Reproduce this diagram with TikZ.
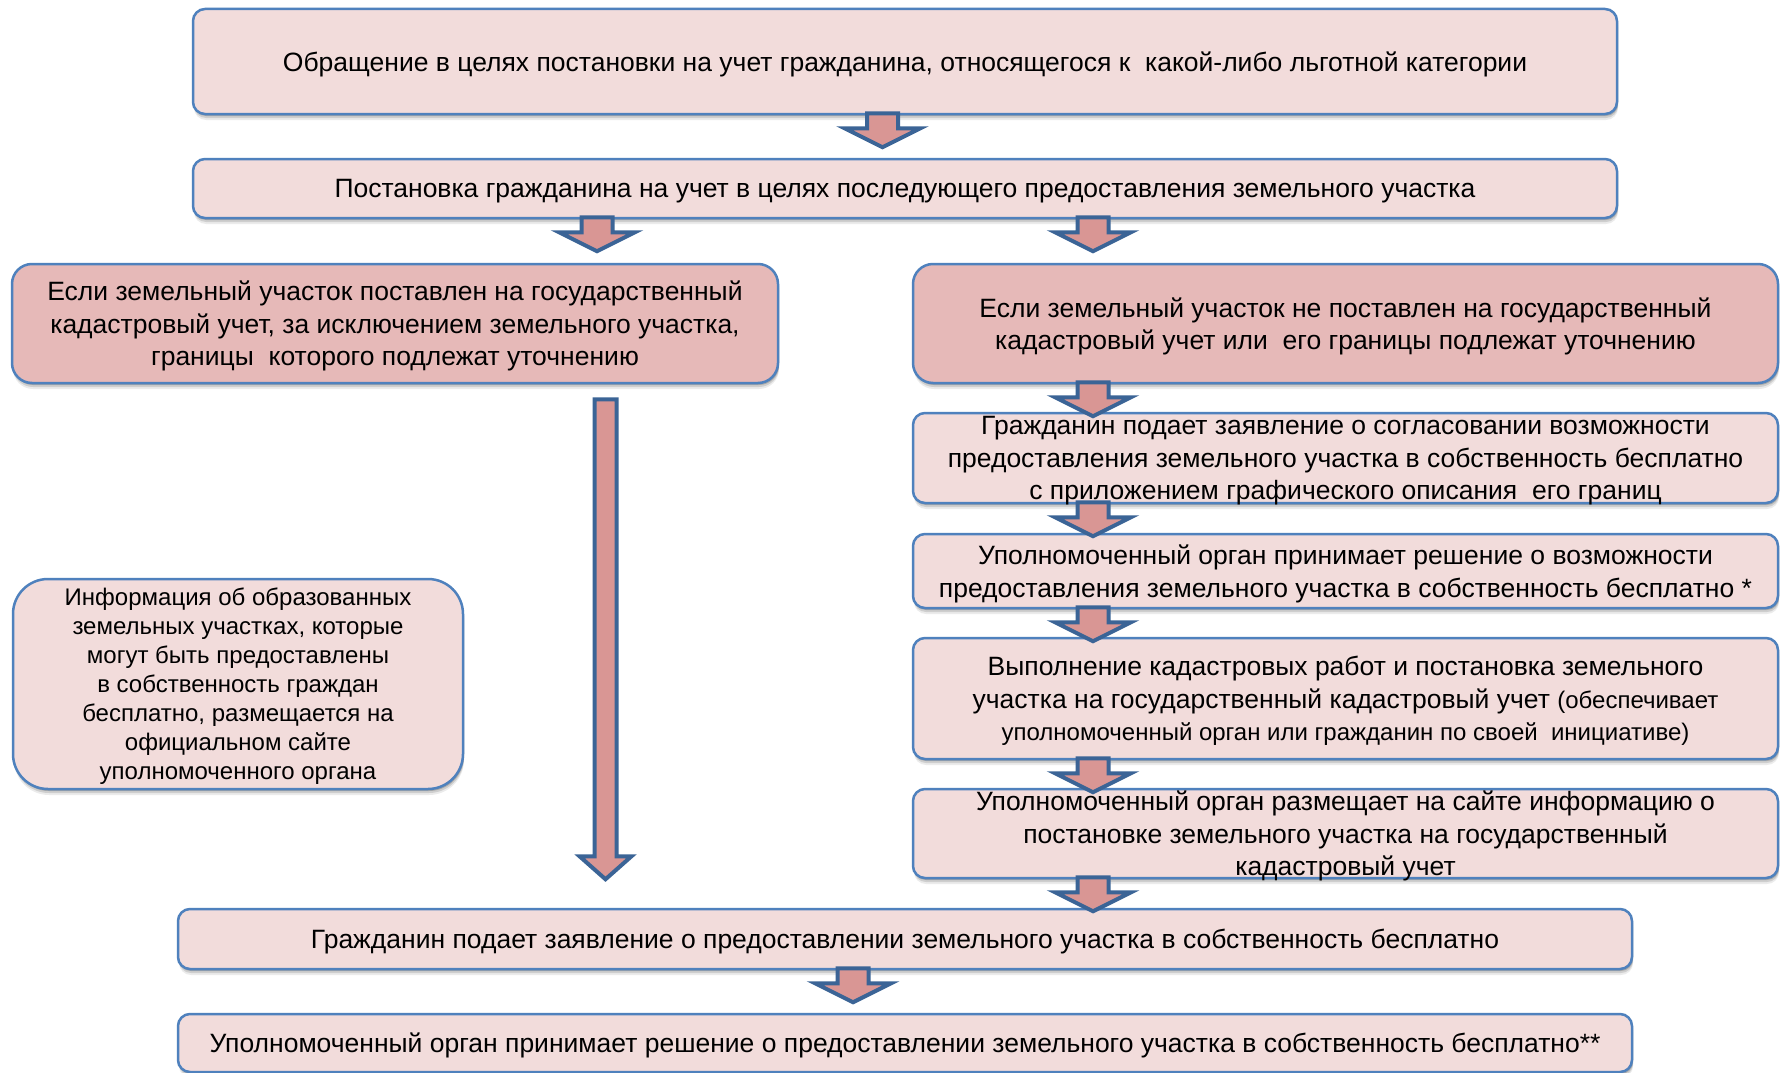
\documentclass[tikz,border=0pt]{standalone}
\usepackage{fontspec}
\setmainfont{Liberation Sans}
\usetikzlibrary{shadows}
\definecolor{boxline}{HTML}{4F81BD}
\definecolor{boxfill}{HTML}{F2DCDB}
\definecolor{boxdark}{HTML}{E6B9B8}
\definecolor{arrline}{HTML}{3B6496}
\definecolor{arrfill}{HTML}{D99694}
\tikzset{
  softshadow/.style={
    drop shadow={shadow xshift=1pt,shadow yshift=-6pt,opacity=0.08,fill=black},
    drop shadow={shadow xshift=1pt,shadow yshift=-4pt,opacity=0.12,fill=black},
    drop shadow={shadow xshift=1pt,shadow yshift=-2pt,opacity=0.18,fill=black}},
  box/.style={draw=boxline, line width=2.5pt, fill=boxfill, rounded corners=12pt,
    inner sep=0pt, align=center, font=\fontsize{26.5}{32.5}\selectfont, text depth=-5pt, softshadow},
  darkbox/.style={box, fill=boxdark, rounded corners=20pt},
  infobox/.style={box, rounded corners=35pt, font=\fontsize{24}{29}\selectfont},
  blkarrow/.style={draw=arrline, fill=arrfill, line width=4pt, line join=miter},
}
\newcommand\smalltxt{\fontsize{24}{32.5}\selectfont}
\newcommand\blkarr[2]{% #1 = x position, #2 = node the arrow leaves
  \draw[blkarrow] (perpendicular cs: horizontal line through={(#2.south)}, vertical line through={(#1,0)})
    +(-15.5,-2) -- +(-15.5,13) -- +(-38,13) -- +(0,32) -- +(38,13) -- +(15.5,13) -- +(15.5,-2) -- cycle;}
\begin{document}
\begin{tikzpicture}[x=1pt,y=-1pt]
\useasboundingbox[fill=white] (0,0) rectangle (1781,1073);

\node[box, minimum width=1424pt, minimum height=105pt] (n1) at (905,61.5)
  {Обращение в целях постановки на учет гражданина, относящегося к\ \ какой-либо льготной категории};
\node[box, minimum width=1424pt, minimum height=59pt] (n2) at (905,188.5)
  {Постановка гражданина на учет в целях последующего предоставления земельного участка};

\node[darkbox, minimum width=766pt, minimum height=119pt] (l1) at (395,323.5)
  {Если земельный участок поставлен на государственный\\кадастровый учет, за исключением земельного участка,\\границы\ \ которого подлежат уточнению};
\node[darkbox, minimum width=865pt, minimum height=119pt] (r1) at (1345.5,323.5)
  {Если земельный участок не поставлен на государственный\\кадастровый учет или\ \ его границы подлежат уточнению};

\node[box, minimum width=865pt, minimum height=90pt] (r2) at (1345.5,458)
  {Гражданин подает заявление о согласовании возможности\\предоставления земельного участка в собственность бесплатно\\с приложением графического описания\ \ его границ};
\node[box, minimum width=865pt, minimum height=74pt] (r3) at (1345.5,571)
  {Уполномоченный орган принимает решение о возможности\\предоставления земельного участка в собственность бесплатно *};
\node[box, minimum width=865pt, minimum height=121pt] (r4) at (1345.5,698.5)
  {Выполнение кадастровых работ и постановка земельного\\участка на государственный кадастровый учет {\smalltxt(обеспечивает}\\{\smalltxt уполномоченный орган или гражданин по своей\ \ инициативе)}};
\node[box, minimum width=865pt, minimum height=89pt] (r5) at (1345.5,833.5)
  {Уполномоченный орган размещает на сайте информацию о\\постановке земельного участка на государственный\\кадастровый учет};

\node[infobox, minimum width=450pt, minimum height=210pt] (info) at (238,684)
  {Информация об образованных\\земельных участках, которые\\могут быть предоставлены\\в собственность граждан\\бесплатно, размещается на\\официальном сайте\\уполномоченного органа};

\node[box, minimum width=1454pt, minimum height=60pt] (b1) at (905,939)
  {Гражданин подает заявление о предоставлении земельного участка в собственность бесплатно};
\node[box, minimum width=1454pt, minimum height=58pt] (b2) at (905,1043)
  {Уполномоченный орган принимает решение о предоставлении земельного участка в собственность бесплатно**};

\blkarr{882.5}{n1}
\blkarr{597}{n2}
\blkarr{1093}{n2}
\blkarr{1093}{r1}
\blkarr{1093}{r2}
\blkarr{1093}{r3}
\blkarr{1093}{r4}
\blkarr{1093}{r5}
\blkarr{853}{b1}

\draw[blkarrow] (perpendicular cs: horizontal line through={(l1.south)}, vertical line through={(605.5,0)})
  +(-11,15) -- +(-11,472) -- +(-26,472) -- +(0,495) -- +(26,472) -- +(11,472) -- +(11,15) -- cycle;
\end{tikzpicture}
\end{document}
